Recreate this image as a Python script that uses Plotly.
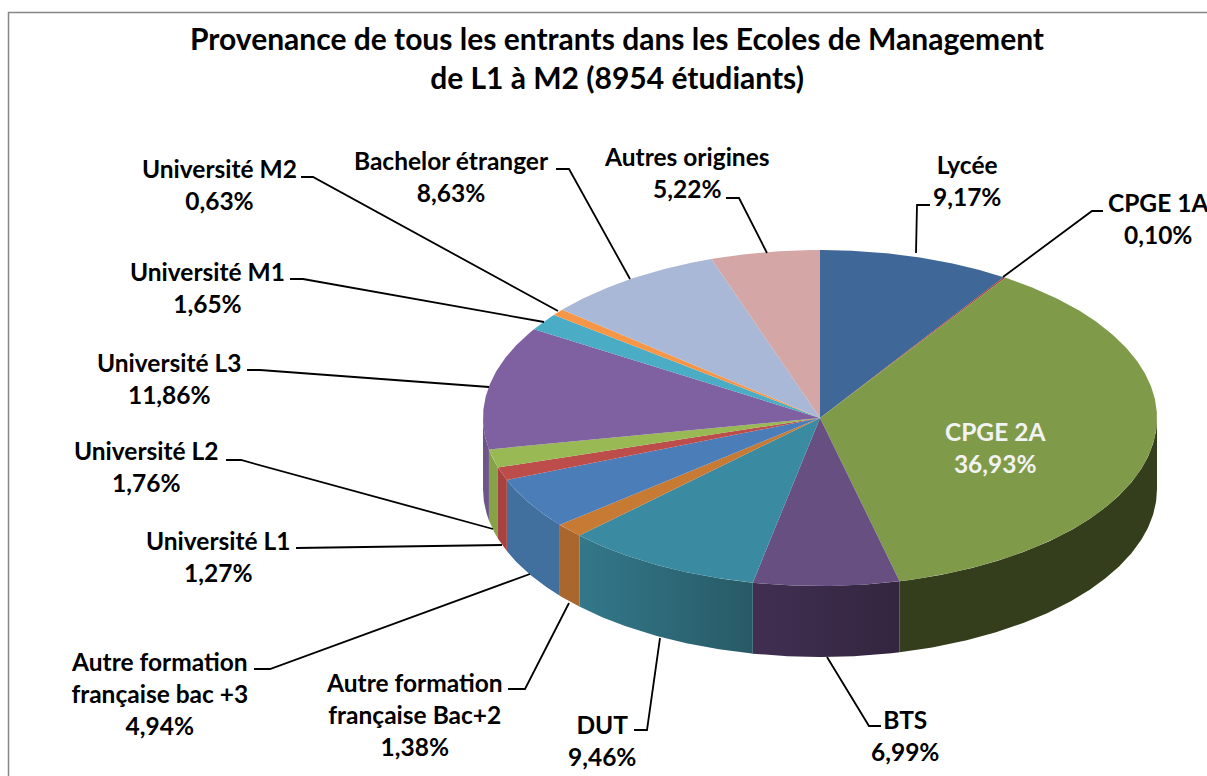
import numpy as np
import plotly.graph_objects as go

# ---- data ----
categories = ["Lycée", "CPGE 1A", "CPGE 2A", "BTS", "DUT",
              "Autre formation<br>française Bac+2", "Autre formation<br>française bac +3",
              "Université L1", "Université L2", "Université L3",
              "Université M1", "Université M2", "Bachelor étranger", "Autres origines"]
values = [9.17, 0.10, 36.93, 6.99, 9.46, 1.38, 4.94, 1.27, 1.76, 11.86, 1.65, 0.63, 8.63, 5.22]
top_colors = ["#3F6898", "#A9403D", "#7F9A48", "#674F82", "#3A8BA2", "#C77A34", "#4B7DB8",
              "#BC4D4A", "#98B954", "#7F60A0", "#4BACC6", "#F79646", "#A9B8D6", "#D4A6A6"]
side_left = ["#2F4E72", "#7F302E", "#343E1C", "#412F52", "#33788A", "#A9662D", "#41709F",
             "#A84240", "#86A249", "#6D5589", "#3A8BA2", "#B96F34", "#7F8AA1", "#9F7D7D"]
side_right = ["#2F4E72", "#7F302E", "#343E1C", "#33253F", "#285A66", "#A9662D", "#41709F",
              "#A84240", "#86A249", "#6D5589", "#3A8BA2", "#B96F34", "#7F8AA1", "#9F7D7D"]

title_text = "Provenance de tous les entrants dans les Ecoles de Management<br>de L1 à M2 (8954 étudiants)"

# ---- layout constants (pixels of the picture) ----
W, H = 1207, 776
CX, CY, RX, RY, DEPTH = 820, 418, 337, 168, 71

label_xy = [(967, 180), (1158, 218), (995, 447), (905, 735), (602, 740), (414, 714), (159, 693),
            (218, 556), (146, 466), (169, 378), (207, 287), (219, 184), (451, 176), (687, 172)]
leaders = [
    [(916, 253), (917, 205), (930, 205)],
    [(1003, 277), (1092, 211), (1103, 211)],
    None,
    [(827, 657), (869, 726), (881, 726)],
    [(660, 638), (647, 730), (634, 730)],
    [(569, 603), (525, 689), (508, 689)],
    [(530, 574), (270, 669), (254, 669)],
    [(502, 545), (311, 548), (296, 548)],
    [(493, 529), (241, 460), (226, 460)],
    [(489, 387), (260, 370), (247, 370)],
    [(544, 322), (303, 279), (290, 279)],
    [(558, 311), (313, 177), (301, 177)],
    [(630, 279), (569, 169), (556, 169)],
    [(767, 253), (739, 198), (726, 198)],
]

FONT = "Lato"
fig = go.Figure()


def arc(a0, a1):
    n = max(2, int(abs(a1 - a0) * 2) + 2)
    t = np.radians(np.linspace(a0, a1, n))
    return CX + RX * np.sin(t), CY - RY * np.cos(t)


edges = np.concatenate([[0], np.cumsum(values)]) / sum(values) * 360

# side wall: only the front half of the disc (90 to 270 degrees) is visible
for i in range(len(values)):
    a0, a1 = max(edges[i], 90), min(edges[i + 1], 270)
    if a1 <= a0:
        continue
    x, y = arc(a0, a1)
    fig.add_trace(go.Scatter(
        x=np.concatenate([x, x[::-1], x[:1]]),
        y=np.concatenate([y, y[::-1] + DEPTH, y[:1]]),
        mode="lines", line=dict(width=0), fill="toself",
        fillgradient=dict(type="horizontal",
                          colorscale=[[0, side_left[i]], [1, side_right[i]]]),
        hoverinfo="skip", showlegend=False))

# top face
for i in range(len(values)):
    x, y = arc(edges[i], edges[i + 1])
    fig.add_trace(go.Scatter(
        x=np.concatenate([[CX], x, [CX]]), y=np.concatenate([[CY], y, [CY]]),
        mode="lines", line=dict(width=0), fill="toself", fillcolor=top_colors[i],
        name=categories[i].replace("<br>", " "), showlegend=False))

# leader lines
for pts in leaders:
    if pts:
        fig.add_trace(go.Scatter(x=[p[0] for p in pts], y=[p[1] for p in pts], mode="lines",
                                 line=dict(color="black", width=1.8), hoverinfo="skip",
                                 showlegend=False))

# data labels
for i, (name, v) in enumerate(zip(categories, values)):
    fig.add_annotation(x=label_xy[i][0], y=label_xy[i][1], xref="x", yref="y",
                       text=f"<b>{name}<br>{v:.2f}%</b>".replace(".", ","),
                       showarrow=False, xanchor="center", yanchor="middle", align="center",
                       font=dict(family=FONT, size=24.5,
                                 color="#F2F2F2" if categories[i] == "CPGE 2A" else "black"))

fig.update_layout(
    width=W, height=H, margin=dict(l=0, r=0, t=0, b=0),
    paper_bgcolor="white", plot_bgcolor="white", showlegend=False,
    title=dict(text=f"<b>{title_text}</b>", x=617 / W, xanchor="center", y=1 - 50 / H,
               yanchor="middle", font=dict(family=FONT, size=30, color="black")),
    xaxis=dict(range=[0, W], visible=False, domain=[0, 1], fixedrange=True),
    yaxis=dict(range=[H, 0], visible=False, domain=[0, 1], fixedrange=True),
    shapes=[dict(type="path", path=f"M 8.5 {H} L 8.5 12.5 L {W} 12.5", xref="x", yref="y",
                 line=dict(color="#868686", width=1.5))],
)

fig.write_html("out.html", config={"displayModeBar": False},
               post_script="document.body.style.margin='0';document.body.style.overflow='hidden';")
